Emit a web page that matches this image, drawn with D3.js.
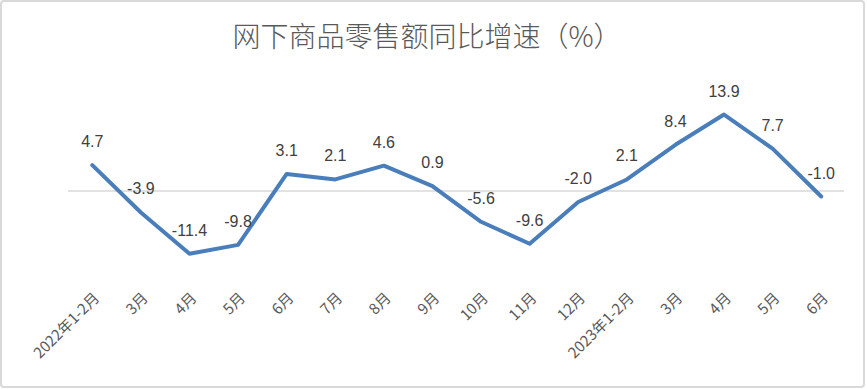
<!DOCTYPE html>
<html><head><meta charset="utf-8">
<script src="https://cdn.jsdelivr.net/npm/d3@7/dist/d3.min.js"></script>
<style>body{margin:0;background:#fff}</style>
</head><body><svg id="c" width="867" height="389"></svg>
<script>
const title = "网下商品零售额同比增速（%）";
const categories = ["2022年1-2月","3月","4月","5月","6月","7月","8月","9月","10月","11月","12月","2023年1-2月","3月","4月","5月","6月"];
const values = [4.7,-3.9,-11.4,-9.8,3.1,2.1,4.6,0.9,-5.6,-9.6,-2.0,2.1,8.4,13.9,7.7,-1.0];
const labels = ["4.7","-3.9","-11.4","-9.8","3.1","2.1","4.6","0.9","-5.6","-9.6","-2.0","2.1","8.4","13.9","7.7","-1.0"];

const svg = d3.select("#c");
svg.append("rect").attr("x",1).attr("y",1).attr("width",863).attr("height",386)
  .attr("rx",3).attr("fill","#fff").attr("stroke","#d9d9d9").attr("stroke-width",2);

svg.append("text").attr("x",427).attr("y",47).attr("text-anchor","middle")
  .attr("font-family","'Noto Sans CJK SC'").attr("font-weight",300).attr("font-size",28)
  .attr("fill","#595959").text(title);

const idx = categories.map((d,i)=>i);
const x = d3.scaleBand().domain(idx).range([68,845.5]);
const y = d3.scaleLinear().domain([-20,20]).range([301,81]);

// zero line
svg.append("line").attr("x1",68).attr("x2",844).attr("y1",y(0)).attr("y2",y(0))
  .attr("stroke","#d9d9d9").attr("stroke-width",1.5);

const cx = i => x(i)+x.bandwidth()/2;
const line = d3.line().x((d,i)=>cx(i)).y(d=>y(d));
svg.append("path").datum(values).attr("d",line).attr("fill","none")
  .attr("stroke","#4a7ebb").attr("stroke-width",4).attr("stroke-linejoin","round").attr("stroke-linecap","round");

svg.append("g").selectAll("text").data(values).join("text")
  .attr("x",(d,i)=>cx(i)).attr("y",d=>y(d)-18)
  .attr("text-anchor","middle").attr("font-family","'Liberation Sans'").attr("font-size",16)
  .attr("fill","#404040").text((d,i)=>labels[i]);

svg.append("g").selectAll("text").data(categories).join("text")
  .attr("transform",(d,i)=>`translate(${cx(i)+8},${299}) rotate(-45)`)
  .attr("text-anchor","end").attr("font-family","'Noto Sans CJK SC'").attr("font-size",15)
  .attr("fill","#595959").text(d=>d);
</script></body></html>
